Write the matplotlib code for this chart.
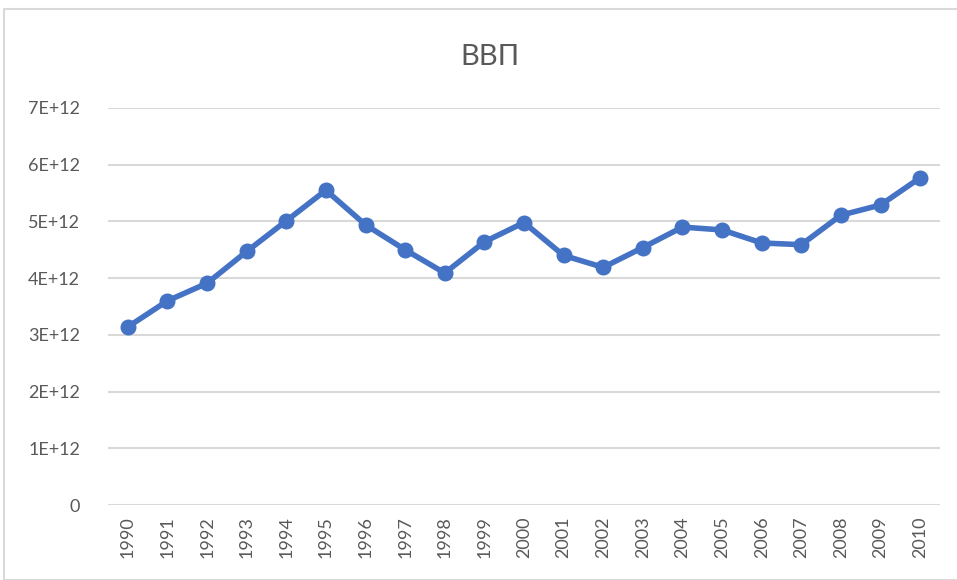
import matplotlib.pyplot as plt
from matplotlib.patches import Rectangle

years = [str(y) for y in range(1990, 2011)]
gdp = [3.14, 3.60, 3.91, 4.47, 5.01, 5.55, 4.94, 4.50, 4.09, 4.64, 4.98,
       4.40, 4.19, 4.54, 4.90, 4.85, 4.62, 4.59, 5.11, 5.29, 5.77]
gdp = [v * 1e12 for v in gdp]
ytick_vals = [0, 1e12, 2e12, 3e12, 4e12, 5e12, 6e12, 7e12]
ytick_labels = ['0', '1E+12', '2E+12', '3E+12', '4E+12', '5E+12', '6E+12', '7E+12']

plt.rcParams['font.family'] = ['Lato', 'DejaVu Sans']
GRAY = '#595959'

fig = plt.figure(figsize=(9.57, 5.80), dpi=100)
fig.patches.append(Rectangle((4 / 957, 0), 1, 1 - 9 / 580, transform=fig.transFigure,
                             fill=False, edgecolor='#d9d9d9', linewidth=1.5))
ax = fig.add_axes([108 / 957, 75 / 580, 832 / 957, 397 / 580])

x = list(range(len(years)))
ax.plot(x, gdp, color='#4472C4', linewidth=4.0, marker='o', markersize=10.5,
        solid_capstyle='round', solid_joinstyle='round')

ax.set_xlim(-0.5, len(years) - 0.5)
ax.set_ylim(0, 7e12)
ax.set_yticks(ytick_vals)
ax.set_yticklabels(ytick_labels)
ax.set_xticks(x)
ax.set_xticklabels(years, rotation=90)
ax.tick_params(axis='both', length=0, colors=GRAY, labelsize=13)
ax.tick_params(axis='y', pad=20)
ax.tick_params(axis='x', pad=8)
ax.grid(axis='y', color='#d9d9d9', linewidth=1.5)
ax.set_axisbelow(True)
for s in ax.spines.values():
    s.set_visible(False)

fig.text(490 / 957, 1 - 57 / 580, 'ВВП', ha='center', va='center',
         fontsize=21, color=GRAY)

fig.savefig('out.png', dpi=100)
